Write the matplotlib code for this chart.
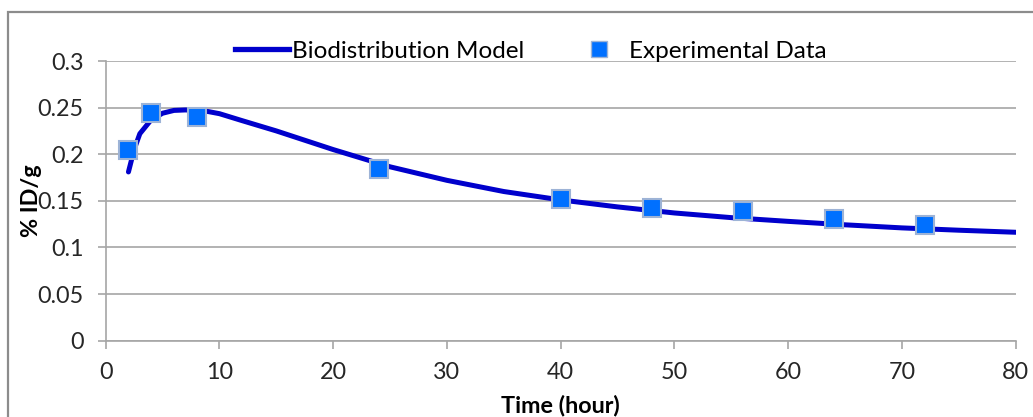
import matplotlib
matplotlib.use("Agg")
import matplotlib.pyplot as plt
from matplotlib.patches import Rectangle
from matplotlib.lines import Line2D

plt.rcParams['font.family'] = ['Lato', 'DejaVu Sans']

# Experimental data
exp_time = [2, 4, 8, 24, 40, 48, 56, 64, 72]
exp_value = [0.2045, 0.2445, 0.240, 0.184, 0.152, 0.142, 0.1394, 0.130, 0.124]

# Model curve
model_time = [2, 2.5, 3, 4, 5, 6, 7, 8, 9, 10, 12, 15, 20, 25, 30, 35, 40, 45, 50, 55, 60, 65, 70, 75, 80]
model_value = [0.181, 0.205, 0.222, 0.237, 0.244, 0.247, 0.2475, 0.247, 0.2458, 0.2435, 0.236, 0.225,
               0.205, 0.1865, 0.172, 0.160, 0.151, 0.1435, 0.137, 0.132, 0.128, 0.1243,
               0.121, 0.1185, 0.1163]

x_ticks = [0, 10, 20, 30, 40, 50, 60, 70, 80]
y_ticks = [0, 0.05, 0.1, 0.15, 0.2, 0.25, 0.3]
y_ticklabels = ['0', '0.05', '0.1', '0.15', '0.2', '0.25', '0.3']

W, H = 1033, 417
fig = plt.figure(figsize=(W / 100, H / 100), dpi=100)
fig.patch.set_facecolor('white')

# outer chart border (cropped on right/bottom)
fig.add_artist(Rectangle((8 / W, -0.1), 1.2, (H - 12) / H + 0.1, transform=fig.transFigure,
                         fill=False, edgecolor='#8c8c8c', linewidth=1.6))

ax = fig.add_axes([105.7 / W, 1 - 340.7 / H, 910 / W, (340.7 - 61) / H])
ax.set_xlim(0, 80)
ax.set_ylim(0, 0.3)
ax.set_xticks(x_ticks)
ax.set_yticks(y_ticks)
ax.set_yticklabels(y_ticklabels)

gray = '#a6a6a6'
for s in ['top', 'right']:
    ax.spines[s].set_visible(False)
for s in ['left', 'bottom']:
    ax.spines[s].set_color(gray)
    ax.spines[s].set_linewidth(1.2)
ax.yaxis.grid(True, color=gray, linewidth=1.2)
ax.set_axisbelow(True)
fs = 16.8
ax.tick_params(axis='both', colors=gray, length=6, width=1.2, labelsize=fs,
               labelcolor='#262626')
ax.tick_params(axis='y', pad=10)
ax.tick_params(axis='x', pad=9)

ax.plot(model_time, model_value, color='#0000cc', linewidth=3.6, solid_capstyle='round', zorder=3)
ax.plot(exp_time, exp_value, linestyle='none', marker='s', markersize=13.5,
        markerfacecolor='#0070ff', markeredgecolor='#9db3d6', markeredgewidth=1.5, zorder=4)

ax.set_xlabel('Time (hour)', fontsize=fs, fontweight='bold')
ax.set_ylabel('% ID/g', fontsize=fs, fontweight='bold', va='center')
ax.yaxis.set_label_coords(-(105.7 - 31) / 910, 0.5)
ax.xaxis.set_label_coords(0.5, -(405 - 340.7) / (340.7 - 61))
ax.xaxis.label.set_verticalalignment('center')

handles = [Line2D([], [], color='#0000cc', linewidth=3.8),
           Line2D([], [], linestyle='none', marker='s', markersize=11,
                  markerfacecolor='#0070ff', markeredgecolor='#9db3d6', markeredgewidth=1)]
fig.legend(handles, ['Biodistribution Model', 'Experimental Data'], loc='center',
           bbox_to_anchor=(531 / W, 1 - 51 / H), ncol=2, frameon=False, fontsize=17.5,
           handlelength=2.2, handletextpad=0.15, columnspacing=1.95,
           borderaxespad=0, borderpad=0)

fig.savefig('out.png', dpi=100)
